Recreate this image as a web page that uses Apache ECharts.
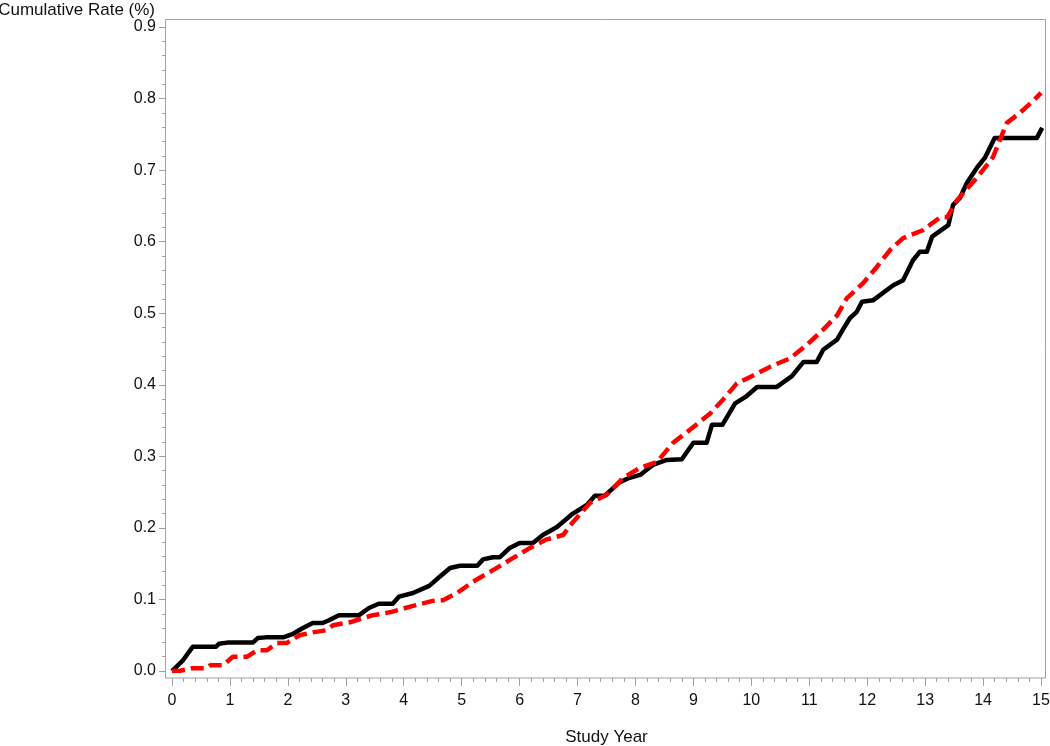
<!DOCTYPE html>
<html>
<head>
<meta charset="utf-8">
<script src="https://cdn.jsdelivr.net/npm/echarts@6/dist/echarts.min.js"></script>
<style>html,body{margin:0;padding:0;background:#fff}#c{width:1050px;height:746px}</style>
</head>
<body>
<div id="c"></div>
<script>
// ---- data ----
var xTitle = "Study Year";
var yTitle = "Cumulative Rate (%)";

var blackX = [0, 0.19, 0.36, 0.76, 0.81, 0.98, 1.4, 1.48, 1.62, 1.92, 2.09, 2.26, 2.43, 2.6, 2.71, 2.88, 3.23, 3.4, 3.57, 3.81, 3.92, 4.16, 4.44, 4.61, 4.8, 4.97, 5.27, 5.37, 5.54, 5.66, 5.83, 6.0, 6.23, 6.4, 6.64, 6.92, 7.16, 7.3, 7.47, 7.73, 7.9, 8.08, 8.3, 8.54, 8.8, 9.0, 9.23, 9.32, 9.5, 9.72, 9.9, 10.1, 10.44, 10.7, 10.9, 11.13, 11.24, 11.48, 11.58, 11.7, 11.82, 11.91, 12.1, 12.45, 12.62, 12.79, 12.91, 13.03, 13.12, 13.4, 13.48, 13.6, 13.72, 13.9, 14.03, 14.2, 14.93, 15.02];
var blackY = [0, 0.015, 0.034, 0.034, 0.038, 0.04, 0.04, 0.046, 0.047, 0.047, 0.052, 0.06, 0.067, 0.067, 0.071, 0.078, 0.078, 0.088, 0.094, 0.094, 0.104, 0.109, 0.119, 0.131, 0.144, 0.147, 0.147, 0.156, 0.159, 0.159, 0.172, 0.179, 0.179, 0.19, 0.201, 0.22, 0.232, 0.245, 0.245, 0.264, 0.27, 0.274, 0.288, 0.295, 0.296, 0.319, 0.319, 0.344, 0.344, 0.374, 0.383, 0.397, 0.397, 0.412, 0.432, 0.432, 0.449, 0.463, 0.477, 0.493, 0.502, 0.516, 0.518, 0.539, 0.546, 0.574, 0.586, 0.586, 0.607, 0.623, 0.651, 0.661, 0.682, 0.704, 0.717, 0.745, 0.745, 0.759];

var redX = [0, 0.12, 0.36, 0.6, 0.66, 0.88, 1.05, 1.3, 1.47, 1.64, 1.81, 1.98, 2.2, 2.43, 2.67, 2.78, 3.07, 3.3, 3.47, 3.76, 4.16, 4.5, 4.68, 4.92, 5.2, 5.54, 5.89, 6.18, 6.47, 6.75, 6.92, 7.22, 7.5, 7.79, 8.08, 8.37, 8.65, 8.94, 9.29, 9.51, 9.75, 9.98, 10.32, 10.67, 10.96, 11.24, 11.48, 11.65, 11.93, 12.17, 12.39, 12.62, 12.96, 13.26, 13.38, 13.55, 13.9, 14.17, 14.41, 14.64, 14.93, 15.0];
var redY = [0, 0, 0.004, 0.004, 0.008, 0.008, 0.02, 0.02, 0.029, 0.029, 0.039, 0.039, 0.05, 0.054, 0.057, 0.064, 0.068, 0.074, 0.078, 0.082, 0.091, 0.098, 0.099, 0.109, 0.125, 0.141, 0.158, 0.172, 0.184, 0.19, 0.208, 0.235, 0.246, 0.27, 0.284, 0.292, 0.319, 0.337, 0.36, 0.379, 0.402, 0.411, 0.425, 0.437, 0.456, 0.477, 0.497, 0.521, 0.542, 0.565, 0.588, 0.605, 0.616, 0.634, 0.634, 0.658, 0.69, 0.718, 0.766, 0.78, 0.802, 0.808];

var xMin = 0, xMax = 15, xStep = 1;
var yMin = 0, yMax = 0.9, yStep = 0.1;

function pairs(xs, ys) { return xs.map(function (x, i) { return [x, ys[i]]; }); }

var axisGray = '#a0a0a0';
var font = 'Liberation Sans, Arial, sans-serif';

var chart = echarts.init(document.getElementById('c'), null, { renderer: 'canvas' });
chart.setOption({
  backgroundColor: '#ffffff',
  animation: false,
  grid: { left: 172, right: 9, top: 27, bottom: 75, containLabel: false, outerBoundsMode: 'none' },
  graphic: [{
    type: 'rect', z: 0, silent: true,
    shape: { x: 165.5, y: 19.5, width: 880, height: 658.5 },
    style: { fill: 'none', stroke: axisGray, lineWidth: 1 }
  }],
  xAxis: {
    type: 'value', min: xMin, max: xMax, interval: xStep,
    offset: 7,
    name: xTitle, nameLocation: 'middle', nameGap: 51,
    nameTextStyle: { fontFamily: font, fontSize: 17, color: '#111' },
    axisLine: { show: false, onZero: false },
    axisTick: { show: true, inside: false, length: 8, lineStyle: { color: axisGray } },
    minorTick: { show: true, splitNumber: 5, length: 4, lineStyle: { color: axisGray } },
    axisLabel: { fontFamily: font, fontSize: 16, color: '#111', margin: 15 },
    splitLine: { show: false }, minorSplitLine: { show: false }
  },
  yAxis: {
    type: 'value', min: yMin, max: yMax, interval: yStep,
    offset: 6,
    name: yTitle, nameLocation: 'end', nameGap: 8,
    nameTextStyle: { fontFamily: font, fontSize: 17, color: '#111', align: 'right', padding: [0, 11, 0, 0] },
    axisLine: { show: false, onZero: false },
    axisTick: { show: true, inside: false, length: 7, lineStyle: { color: axisGray } },
    minorTick: { show: true, splitNumber: 5, length: 4, lineStyle: { color: axisGray } },
    axisLabel: { fontFamily: font, fontSize: 16, color: '#111', margin: 10,
      formatter: function (v) { return v.toFixed(1); } },
    splitLine: { show: false }, minorSplitLine: { show: false }
  },
  series: [
    {
      type: 'line', data: pairs(blackX, blackY), showSymbol: false, symbol: 'none',
      lineStyle: { color: '#000000', width: 4.5, type: 'solid', join: 'round' }, z: 3
    },
    {
      type: 'line', data: pairs(redX, redY), showSymbol: false, symbol: 'none',
      lineStyle: { color: '#ff0000', width: 4.5, type: [13, 6], join: 'round' }, z: 4
    }
  ]
});
</script>
</body>
</html>
